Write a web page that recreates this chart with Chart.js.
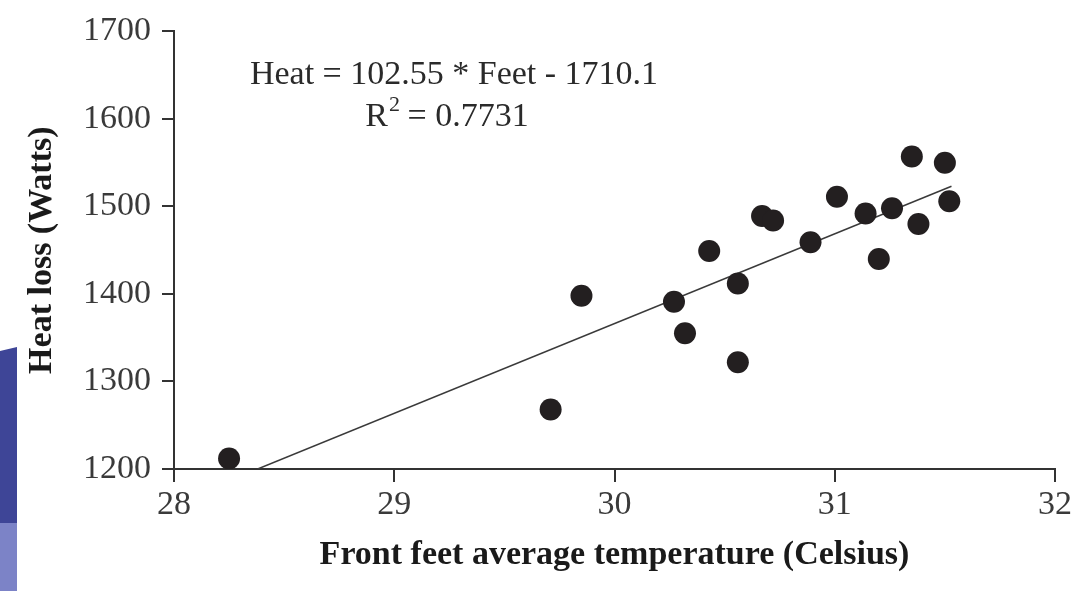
<!DOCTYPE html>
<html>
<head>
<meta charset="utf-8">
<script src="https://cdn.jsdelivr.net/npm/chart.js@4.4.0/dist/chart.umd.min.js"></script>
<style>
    html, body { margin: 0; padding: 0; background: #fff; }
    #wrap { position: relative; width: 1076px; height: 591px; }
    #chart { position: absolute; left: 0; top: 0; }
    .band { position: absolute; left: 0; width: 17px; }
    #bandDark { top: 347px; height: 176px; background: #3e4597; clip-path: polygon(0 4px, 100% 0, 100% 100%, 0 100%); }
    #bandLight { top: 523px; height: 68px; background: #7c83c7; }
</style>
</head>
<body>
<div id="wrap">
    <canvas id="chart" width="1076" height="591"></canvas>
    <div class="band" id="bandDark"></div>
    <div class="band" id="bandLight"></div>
</div>
<script>
// values
const xTicks = [28, 29, 30, 31, 32];
const yTicks = [1200, 1300, 1400, 1500, 1600, 1700];

const feetTemp = [28.25, 29.71, 29.85, 30.27, 30.32, 30.43, 30.56, 30.56, 30.67, 30.72,
                  30.89, 31.01, 31.14, 31.26, 31.20, 31.35, 31.38, 31.50, 31.52];
const heatLoss = [1212, 1268, 1398, 1391, 1355, 1449, 1412, 1322, 1489, 1484,
                  1459, 1511, 1492, 1498, 1440, 1557, 1480, 1550, 1506];

// fitted line end points as drawn
const trendTemp = [28.38, 31.53];
const trendHeat = [1200, 1523];

const equationText = "Heat = 102.55 * Feet - 1710.1";
const r2Text = "= 0.7731";

const SERIF = '"Liberation Serif", "Times New Roman", serif';
const INK = "#231f20";

// equation + R² drawn inside the plot
const annotationPlugin = {
    id: "equation",
    afterDraw(chart) {
        const ctx = chart.ctx;
        ctx.save();
        ctx.fillStyle = "#2a2a2a";
        ctx.textBaseline = "alphabetic";
        ctx.font = "34px " + SERIF;
        ctx.textAlign = "center";
        ctx.fillText(equationText, 454, 84);

        // R with superscript 2
        ctx.textAlign = "left";
        const rW = ctx.measureText("R").width;
        ctx.font = "22px " + SERIF;
        const supW = ctx.measureText("2").width;
        ctx.font = "34px " + SERIF;
        const restW = ctx.measureText(" " + r2Text).width;
        let x = 447 - (rW + supW + restW) / 2;
        ctx.fillText("R", x, 126);
        x += rW;
        ctx.font = "22px " + SERIF;
        ctx.fillText("2", x + 1, 111);
        x += supW;
        ctx.font = "34px " + SERIF;
        ctx.fillText(" " + r2Text, x, 126);
        ctx.restore();
    }
};

const points = feetTemp.map((t, i) => ({ x: t, y: heatLoss[i] }));
const trend = trendTemp.map((t, i) => ({ x: t, y: trendHeat[i] }));

new Chart(document.getElementById("chart"), {
    type: "scatter",
    data: {
        datasets: [
            {
                type: "line",
                data: trend,
                borderColor: "#3a3a3a",
                borderWidth: 1.5,
                pointRadius: 0,
                fill: false,
                order: 2
            },
            {
                data: points,
                backgroundColor: INK,
                borderWidth: 0,
                pointRadius: 11,
                pointHoverRadius: 11,
                order: 1
            }
        ]
    },
    options: {
        responsive: false,
        animation: false,
        layout: { padding: { left: 0, top: 29, right: 21, bottom: 0 } },
        plugins: { legend: { display: false }, tooltip: { enabled: false } },
        scales: {
            x: {
                type: "linear",
                min: 28, max: 32,
                afterBuildTicks: s => { s.ticks = xTicks.map(v => ({ value: v })); },
                afterFit: s => { s.height = 122; },
                grid: { drawOnChartArea: false, drawTicks: true, tickLength: 13, color: "#333", lineWidth: 2 },
                border: { display: true, color: "#333", width: 2 },
                ticks: { color: "#3a3a3a", padding: 3, font: { family: SERIF, size: 34 }, maxRotation: 0, callback: v => String(v) },
                title: {
                    display: true,
                    text: "Front feet average temperature (Celsius)",
                    color: "#1a1a1a",
                    font: { family: SERIF, size: 34, weight: "bold", lineHeight: 1.2 },
                    padding: { top: 0, bottom: 15 }
                }
            },
            y: {
                type: "linear",
                min: 1200, max: 1700,
                afterBuildTicks: s => { s.ticks = yTicks.map(v => ({ value: v })); },
                afterFit: s => { s.width = 174; },
                grid: { drawOnChartArea: false, drawTicks: true, tickLength: 12, color: "#333", lineWidth: 2 },
                border: { display: true, color: "#333", width: 2 },
                ticks: { color: "#3a3a3a", padding: 11, font: { family: SERIF, size: 34 }, callback: v => String(v) },
                title: {
                    display: true,
                    text: "Heat loss (Watts)",
                    color: "#1a1a1a",
                    font: { family: SERIF, size: 34, weight: "bold", lineHeight: 1.2 },
                    padding: { top: 22, bottom: 0 }
                }
            }
        }
    },
    plugins: [annotationPlugin]
});
</script>
</body>
</html>
